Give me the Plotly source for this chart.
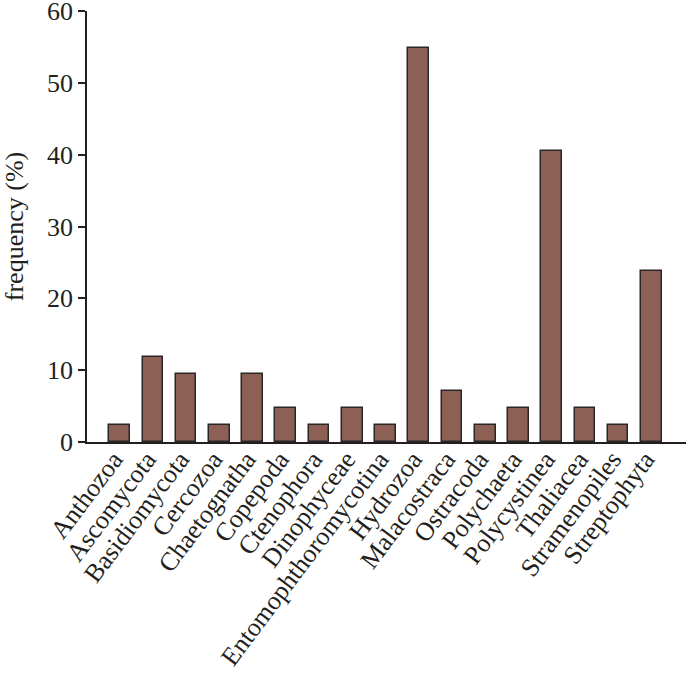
import plotly.graph_objects as go

# taxa and their frequency (% of 42 samples)
taxa = ["Anthozoa", "Ascomycota", "Basidiomycota", "Cercozoa", "Chaetognatha",
        "Copepoda", "Ctenophora", "Dinophyceae", "Entomophthoromycotina",
        "Hydrozoa", "Malacostraca", "Ostracoda", "Polychaeta", "Polycystinea",
        "Thaliacea", "Stramenopiles", "Streptophyta"]
frequency = [2.4, 11.9, 9.5, 2.4, 9.5, 4.8, 2.4, 4.8, 2.4,
             54.8, 7.1, 2.4, 4.8, 40.5, 4.8, 2.4, 23.8]
y_ticks = [0, 10, 20, 30, 40, 50, 60]

ink = "#231f20"
serif = "Liberation Serif, Times New Roman, serif"

fig = go.Figure()
fig.add_trace(go.Bar(
    x=list(range(len(taxa))), y=frequency, width=0.62,
    marker=dict(color="#8c6054", line=dict(color="#2b2626", width=1.5)),
))

fig.update_layout(
    width=686, height=676,
    margin=dict(l=87, r=0, t=11, b=234),
    plot_bgcolor="white", paper_bgcolor="white",
    font=dict(family=serif, size=26, color=ink),
    showlegend=False,
    bargap=0,
)
fig.update_xaxes(
    range=[-0.98, 17.04], automargin=False,
    tickmode="array", tickvals=list(range(len(taxa))), ticktext=taxa,
    tickangle=-53, ticks="", showgrid=False, zeroline=False,
    ticklabelstandoff=-10, ticklabelshift=-6,
    showline=True, linecolor=ink, linewidth=1.5,
    tickfont=dict(family=serif, size=26, color=ink),
)
fig.update_yaxes(
    range=[0, 60.02], automargin=False, ticklabeloverflow="allow",
    tickmode="array", tickvals=y_ticks,
    ticks="outside", ticklen=7, tickwidth=1.5, tickcolor=ink,
    showgrid=False, zeroline=False,
    showline=True, linecolor=ink, linewidth=1.5,
    title=dict(text="frequency (%)", standoff=26, font=dict(family=serif, size=26, color=ink)),
    tickfont=dict(family=serif, size=26, color=ink),
)

# page body has a default 8px margin; drop it so the figure fills the window
fig.write_html("out.html", config={"displayModeBar": False},
               post_script="document.body.style.margin='0';")
